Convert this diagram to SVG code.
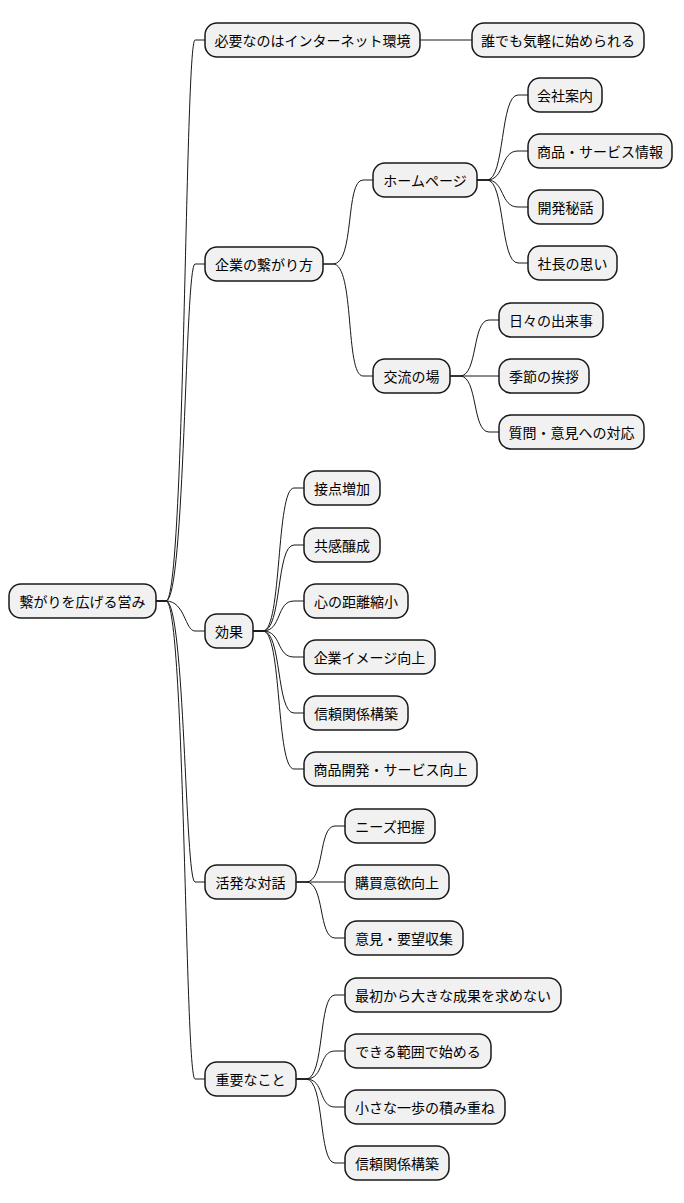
<svg xmlns="http://www.w3.org/2000/svg" width="684" height="1203" viewBox="0 0 684 1203">
<style>
.n rect{fill:#F1F1F1;stroke:#181818;stroke-width:1.5}
.n text{font-family:"Noto Sans CJK JP","Noto Sans",sans-serif;font-size:14px;fill:#000;text-anchor:middle;dominant-baseline:central}
#edges path{fill:none;stroke:#181818;stroke-width:1}
</style>
<rect width="684" height="1203" fill="#FFFFFF"/>
<g id="edges">
<path d="M156 601 L166 601 C185 601 185 40 195 40 L205 40"/>
<path d="M156 601 L166 601 C185 601 185 264 195 264 L205 264"/>
<path d="M156 601 L166 601 C185 601 185 631 195 631 L205 631"/>
<path d="M156 601 L166 601 C185 601 185 882 195 882 L205 882"/>
<path d="M156 601 L166 601 C185 601 185 1079 195 1079 L205 1079"/>
<path d="M420 40 L472 40"/>
<path d="M323 264 L333 264 C355 264 345 180 363 180 L373 180"/>
<path d="M323 264 L333 264 C355 264 345 376 363 376 L373 376"/>
<path d="M477 180 L487 180 C505 180 500 95 518 95 L528 95"/>
<path d="M477 180 L487 180 C505 180 500 151 518 151 L528 151"/>
<path d="M477 180 L487 180 C505 180 500 207 518 207 L528 207"/>
<path d="M477 180 L487 180 C505 180 500 263 518 263 L528 263"/>
<path d="M450 376 L460 376 C478 376 472 320 489 320 L499 320"/>
<path d="M450 376 L499 376"/>
<path d="M450 376 L460 376 C478 376 472 432 489 432 L499 432"/>
<path d="M253 631 L263 631 C282 631 276 488 294 488 L304 488"/>
<path d="M253 631 L263 631 C282 631 276 545 294 545 L304 545"/>
<path d="M253 631 L263 631 C282 631 276 601 294 601 L304 601"/>
<path d="M253 631 L263 631 C282 631 276 657 294 657 L304 657"/>
<path d="M253 631 L263 631 C282 631 276 713 294 713 L304 713"/>
<path d="M253 631 L263 631 C282 631 276 769 294 769 L304 769"/>
<path d="M296 882 L306 882 C325 882 318 826 335 826 L345 826"/>
<path d="M296 882 L345 882"/>
<path d="M296 882 L306 882 C325 882 318 938 335 938 L345 938"/>
<path d="M296 1079 L306 1079 C325 1079 318 995 335 995 L345 995"/>
<path d="M296 1079 L306 1079 C325 1079 318 1051 335 1051 L345 1051"/>
<path d="M296 1079 L306 1079 C325 1079 318 1107 335 1107 L345 1107"/>
<path d="M296 1079 L306 1079 C325 1079 318 1163 335 1163 L345 1163"/>
</g>
<g id="root" class="n"><rect x="9" y="584" width="147" height="34" rx="12"/><text x="82.5" y="601">繋がりを広げる営み</text></g>
<g id="n1" class="n"><rect x="205" y="23" width="215" height="34" rx="12"/><text x="312.5" y="40">必要なのはインターネット環境</text></g>
<g id="n1a" class="n"><rect x="472" y="23" width="172" height="34" rx="12"/><text x="558" y="40">誰でも気軽に始められる</text></g>
<g id="n2" class="n"><rect x="205" y="247" width="118" height="34" rx="12"/><text x="264" y="264">企業の繋がり方</text></g>
<g id="n2a" class="n"><rect x="373" y="163" width="104" height="34" rx="12"/><text x="425" y="180">ホームページ</text></g>
<g id="n2a1" class="n"><rect x="528" y="78" width="74" height="34" rx="12"/><text x="565" y="95">会社案内</text></g>
<g id="n2a2" class="n"><rect x="528" y="134" width="144" height="34" rx="12"/><text x="600" y="151">商品・サービス情報</text></g>
<g id="n2a3" class="n"><rect x="528" y="190" width="75" height="34" rx="12"/><text x="565.5" y="207">開発秘話</text></g>
<g id="n2a4" class="n"><rect x="528" y="246" width="89" height="34" rx="12"/><text x="572.5" y="263">社長の思い</text></g>
<g id="n2b" class="n"><rect x="373" y="359" width="77" height="34" rx="12"/><text x="411.5" y="376">交流の場</text></g>
<g id="n2b1" class="n"><rect x="499" y="303" width="104" height="34" rx="12"/><text x="551" y="320">日々の出来事</text></g>
<g id="n2b2" class="n"><rect x="499" y="359" width="90" height="34" rx="12"/><text x="544" y="376">季節の挨拶</text></g>
<g id="n2b3" class="n"><rect x="499" y="415" width="145" height="34" rx="12"/><text x="571.5" y="432">質問・意見への対応</text></g>
<g id="n3" class="n"><rect x="205" y="614" width="48" height="34" rx="12"/><text x="229" y="631">効果</text></g>
<g id="n3a" class="n"><rect x="304" y="471" width="76" height="34" rx="12"/><text x="342" y="488">接点増加</text></g>
<g id="n3b" class="n"><rect x="304" y="528" width="76" height="34" rx="12"/><text x="342" y="545">共感醸成</text></g>
<g id="n3c" class="n"><rect x="304" y="584" width="104" height="34" rx="12"/><text x="356" y="601">心の距離縮小</text></g>
<g id="n3d" class="n"><rect x="304" y="640" width="131" height="34" rx="12"/><text x="369.5" y="657">企業イメージ向上</text></g>
<g id="n3e" class="n"><rect x="304" y="696" width="104" height="34" rx="12"/><text x="356" y="713">信頼関係構築</text></g>
<g id="n3f" class="n"><rect x="304" y="752" width="173" height="34" rx="12"/><text x="390.5" y="769">商品開発・サービス向上</text></g>
<g id="n4" class="n"><rect x="205" y="865" width="91" height="34" rx="12"/><text x="250.5" y="882">活発な対話</text></g>
<g id="n4a" class="n"><rect x="345" y="809" width="90" height="34" rx="12"/><text x="390" y="826">ニーズ把握</text></g>
<g id="n4b" class="n"><rect x="345" y="865" width="104" height="34" rx="12"/><text x="397" y="882">購買意欲向上</text></g>
<g id="n4c" class="n"><rect x="345" y="921" width="118" height="34" rx="12"/><text x="404" y="938">意見・要望収集</text></g>
<g id="n5" class="n"><rect x="205" y="1062" width="91" height="34" rx="12"/><text x="250.5" y="1079">重要なこと</text></g>
<g id="n5a" class="n"><rect x="345" y="978" width="216" height="34" rx="12"/><text x="453" y="995">最初から大きな成果を求めない</text></g>
<g id="n5b" class="n"><rect x="345" y="1034" width="146" height="34" rx="12"/><text x="418" y="1051">できる範囲で始める</text></g>
<g id="n5c" class="n"><rect x="345" y="1090" width="160" height="34" rx="12"/><text x="425" y="1107">小さな一歩の積み重ね</text></g>
<g id="n5d" class="n"><rect x="345" y="1146" width="104" height="34" rx="12"/><text x="397" y="1163">信頼関係構築</text></g>
</svg>
